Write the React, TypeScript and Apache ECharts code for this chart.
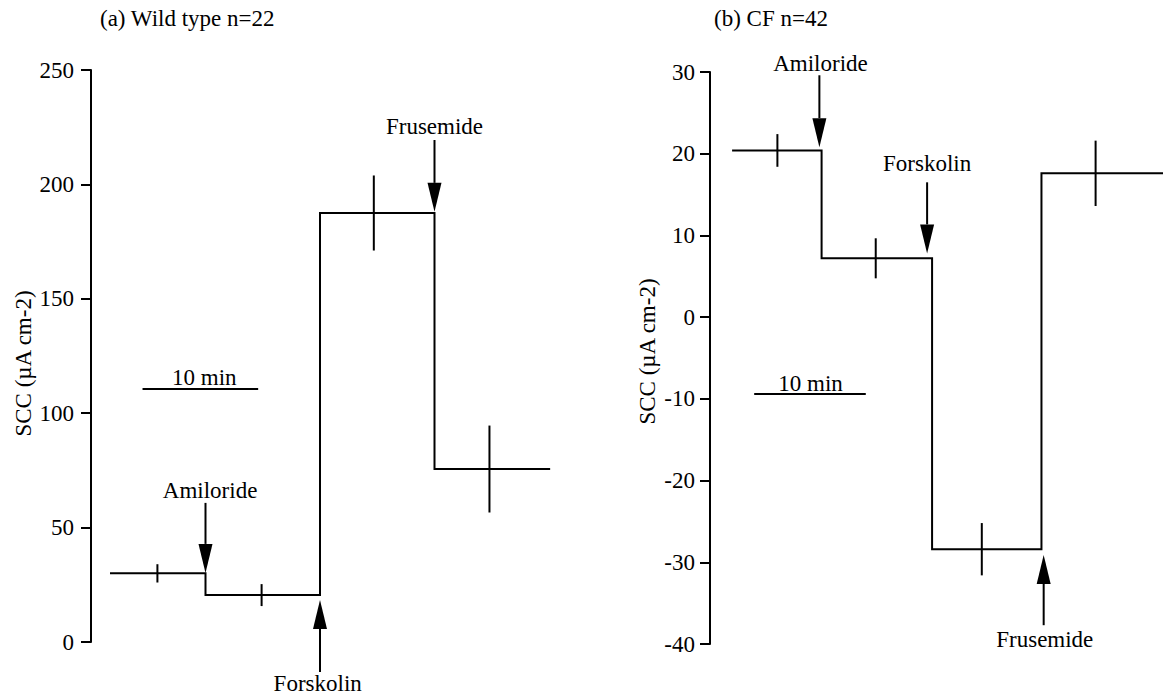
import React, { useEffect, useRef } from "react";
import * as echarts from "echarts";

// ---------- data (time in minutes, SCC in µA cm-2) ----------
const panelTitles = ["(a) Wild type n=22", "(b) CF n=42"];
const yAxisName = "SCC (µA cm-2)";
const drugs = ["Amiloride", "Forskolin", "Frusemide"];
const scaleLabel = "10 min";

// Wild type
const wtBoundaries = [1.66, 10, 20, 30, 40.1];
const wtMeans = [30, 20.5, 187.5, 75.6];
const wtErrors = [4, 4.8, 16.4, 19];
const wtErrTimes = [5.8, 14.9, 24.7, 34.8];
const wtArrowTimes = [10, 20, 30];
const wtArrowTips = [30.2, 18.4, 188];
const wtArrowTails = [60.8, -13.1, 219.4];
const wtLabelTimes = [10.4, 19.8, 30.0];
const wtLabelValues = [66.0, -18.1, 225.3];
const wtScaleBar = [4.5, 14.6, 110.6];
const wtScaleText = [9.9, 115.6];
const wtTicks = [0, 250, 50];

// CF
const cfBoundaries = [2.0, 10.1, 20.1, 30.0, 41];
const cfMeans = [20.4, 7.2, -28.4, 17.6];
const cfErrors = [2, 2.45, 3.2, 4];
const cfErrTimes = [6.1, 15.0, 24.6, 34.9];
const cfArrowTimes = [9.9, 19.65, 30.2];
const cfArrowTips = [20.8, 7.8, -29.1];
const cfArrowTails = [29.6, 16.5, -37.7];
const cfLabelTimes = [10.0, 19.65, 30.3];
const cfLabelValues = [31.1, 18.8, -39.4];
const cfScaleBar = [4.0, 14.1, -9.4];
const cfScaleText = [9.1, -8.1];
const cfTicks = [-40, 30, 10];

const FONT = "'Liberation Serif', 'Times New Roman', Times, serif";
const FS = 23;

function steps(b: number[], m: number[]) {
  const pts: number[][] = [];
  for (let i = 0; i < m.length; i++) {
    pts.push([b[i], m[i]]);
    pts.push([b[i + 1], m[i]]);
  }
  return pts;
}

function buildPanel(
  idx: number,
  b: number[],
  m: number[],
  e: number[],
  et: number[],
  at: number[],
  tips: number[],
  tails: number[],
  lt: number[],
  lv: number[],
  sb: number[],
  st: number[]
) {
  const line = {
    type: "line",
    xAxisIndex: idx,
    yAxisIndex: idx,
    data: steps(b, m),
    showSymbol: false,
    symbol: "none",
    lineStyle: { color: "#000", width: 2, join: "miter" },
    silent: true,
  };
  const err = {
    type: "custom",
    xAxisIndex: idx,
    yAxisIndex: idx,
    clip: false,
    data: m.map((v, i) => [et[i], v, e[i]]),
    renderItem: (params: any, api: any) => {
      const x = api.value(0);
      const v = api.value(1);
      const s = api.value(2);
      const p1 = api.coord([x, v - s]);
      const p2 = api.coord([x, v + s]);
      return {
        type: "line",
        shape: { x1: p1[0], y1: p1[1], x2: p2[0], y2: p2[1] },
        style: { stroke: "#000", lineWidth: 2 },
      };
    },
  };
  const arrows = {
    type: "custom",
    xAxisIndex: idx,
    yAxisIndex: idx,
    clip: false,
    data: at.map((x, i) => [x, tips[i], tails[i], lt[i], lv[i]]),
    renderItem: (params: any, api: any) => {
      const i = params.dataIndex;
      const pTip = api.coord([api.value(0), api.value(1)]);
      const pTail = api.coord([api.value(0), api.value(2)]);
      const pl = api.coord([api.value(3), api.value(4)]);
      const dir = pTail[1] > pTip[1] ? 1 : -1;
      const headLen = 29;
      const headW = 7;
      const baseY = pTip[1] + dir * headLen;
      return {
        type: "group",
        children: [
          {
            type: "line",
            shape: { x1: pTail[0], y1: pTail[1], x2: pTip[0], y2: baseY },
            style: { stroke: "#000", lineWidth: 2 },
          },
          {
            type: "polygon",
            shape: {
              points: [
                [pTip[0], pTip[1]],
                [pTip[0] - headW, baseY],
                [pTip[0] + headW, baseY],
              ],
            },
            style: { fill: "#000" },
          },
          {
            type: "text",
            x: pl[0],
            y: pl[1],
            style: {
              text: drugs[i],
              fill: "#000",
              fontSize: FS,
              fontFamily: FONT,
              align: "center",
              verticalAlign: "middle",
            },
          },
        ],
      };
    },
  };
  const scale = {
    type: "custom",
    xAxisIndex: idx,
    yAxisIndex: idx,
    clip: false,
    data: [[sb[0], sb[1], sb[2], st[0], st[1]]],
    renderItem: (params: any, api: any) => {
      const p1 = api.coord([api.value(0), api.value(2)]);
      const p2 = api.coord([api.value(1), api.value(2)]);
      const pt = api.coord([api.value(3), api.value(4)]);
      return {
        type: "group",
        children: [
          {
            type: "line",
            shape: { x1: p1[0], y1: p1[1], x2: p2[0], y2: p2[1] },
            style: { stroke: "#000", lineWidth: 2 },
          },
          {
            type: "text",
            x: pt[0],
            y: pt[1],
            style: {
              text: scaleLabel,
              fill: "#000",
              fontSize: FS,
              fontFamily: FONT,
              align: "center",
              verticalAlign: "middle",
            },
          },
        ],
      };
    },
  };
  return [line, err, arrows, scale];
}

function yAxis(idx: number, t: number[], margin: number) {
  return {
    type: "value",
    gridIndex: idx,
    min: t[0],
    max: t[1],
    interval: t[2],
    axisLine: { show: true, lineStyle: { color: "#000", width: 2 } },
    axisTick: { show: true, length: 10, inside: false, lineStyle: { color: "#000", width: 2 } },
    axisLabel: { color: "#000", fontSize: FS, fontFamily: FONT, margin },
    splitLine: { show: false },
  };
}

function xAxis(idx: number) {
  return { type: "value", gridIndex: idx, min: 0, max: 41, show: false };
}

export default function App() {
  const ref = useRef<HTMLDivElement>(null);
  useEffect(() => {
    if (!ref.current) return;
    const chart = echarts.init(ref.current, null, { renderer: "svg" });
    const pxPerMin = 11.45;
    const titleStyle = { color: "#000", fontSize: FS, fontWeight: "normal", fontFamily: FONT };
    const nameStyle = {
      text: yAxisName,
      fill: "#000",
      fontSize: FS,
      fontFamily: FONT,
      align: "center",
      verticalAlign: "middle",
    };
    const option: any = {
      animation: false,
      backgroundColor: "#fff",
      title: [
        { text: panelTitles[0], left: 100, top: 7, padding: 0, textStyle: titleStyle },
        { text: panelTitles[1], left: 714, top: 7, padding: 0, textStyle: titleStyle },
      ],
      grid: [
        { left: 91, top: 70, height: 572, width: 41 * pxPerMin },
        { left: 710, top: 72, height: 572, width: 41 * pxPerMin },
      ],
      xAxis: [xAxis(0), xAxis(1)],
      yAxis: [yAxis(0, wtTicks, 17), yAxis(1, cfTicks, 15)],
      graphic: [
        { type: "text", x: 23, y: 363.5, rotation: Math.PI / 2, style: nameStyle },
        { type: "text", x: 647, y: 351.5, rotation: Math.PI / 2, style: nameStyle },
      ],
      series: [
        ...buildPanel(0, wtBoundaries, wtMeans, wtErrors, wtErrTimes, wtArrowTimes, wtArrowTips, wtArrowTails, wtLabelTimes, wtLabelValues, wtScaleBar, wtScaleText),
        ...buildPanel(1, cfBoundaries, cfMeans, cfErrors, cfErrTimes, cfArrowTimes, cfArrowTips, cfArrowTails, cfLabelTimes, cfLabelValues, cfScaleBar, cfScaleText),
      ],
    };
    chart.setOption(option);
    return () => chart.dispose();
  }, []);
  return (
    <div
      ref={ref}
      style={{ position: "absolute", left: 0, top: 0, width: 1163, height: 697 }}
    />
  );
}
